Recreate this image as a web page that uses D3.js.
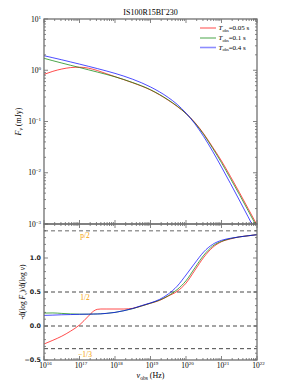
<!DOCTYPE html>
<html><head><meta charset="utf-8">
<script src="https://cdn.jsdelivr.net/npm/d3@7"></script>
<style>body{margin:0;background:#fff}svg{display:block}</style>
</head><body>
<svg id="c" width="294" height="392"></svg>
<script>
// ---- data ----
const title = "IS100R15B\u0393230";
const seriesLabels = ["0.05 s", "0.1 s", "0.4 s"];
const seriesColors = ["#ff0000", "#008000", "#0000ff"];
// flux panel: log10(nu) grid and F_nu (mJy)
const fluxLogNu = [16,16.25,16.5,16.75,17,17.25,17.5,17.75,18,18.5,19,19.5,19.75,20,20.25,20.5,20.75,21,21.25,21.5,21.75,22];
const fluxT005 = [0.832,0.953,1.057,1.127,1.148,1.099,0.989,0.861,0.750,0.569,0.412,0.260,0.197,0.143,0.0955,0.0575,0.0316,0.0170,0.00851,0.00417,0.00200,0.000955];
const fluxT01  = [1.710,1.535,1.384,1.250,1.130,1.021,0.923,0.832,0.745,0.575,0.417,0.264,0.200,0.143,0.0938,0.0556,0.0302,0.0157,0.00776,0.00380,0.00182,0.000871];
const fluxT04  = [1.923,1.754,1.600,1.452,1.318,1.194,1.079,0.971,0.869,0.667,0.472,0.294,0.216,0.146,0.0902,0.0506,0.0262,0.0129,0.00621,0.00294,0.00138,0.000638];
// spectral index panel
const slopeLogNu = [16,16.25,16.5,16.75,17,17.25,17.4,17.5,17.6,17.75,18,18.25,18.5,18.75,19,19.25,19.5,19.75,20,20.25,20.5,20.75,21,21.25,21.5,21.75,22];
const slopeT005 = [-0.265,-0.21,-0.15,-0.075,0.015,0.145,0.22,0.245,0.25,0.25,0.25,0.25,0.26,0.295,0.335,0.375,0.44,0.51,0.63,0.82,1.01,1.155,1.24,1.28,1.31,1.327,1.343];
const slopeT01  = [0.190,0.192,0.185,0.178,0.174,0.174,0.176,0.177,0.179,0.185,0.200,0.225,0.255,0.295,0.335,0.38,0.445,0.535,0.665,0.855,1.04,1.175,1.245,1.285,1.31,1.327,1.343];
const slopeT04  = [0.156,0.160,0.165,0.168,0.172,0.174,0.176,0.177,0.179,0.185,0.200,0.225,0.258,0.300,0.34,0.39,0.47,0.585,0.75,0.925,1.09,1.20,1.26,1.29,1.31,1.327,1.343];
const refLines = [{v:1.4, t:"p/2", gray:true}, {v:0.5, t:"1/2"}, {v:0.0, t:null}, {v:-1/3, t:"\u22121/3"}];
const xTickExps = [16,17,18,19,20,21,22];
const yTopExps = [-3,-2,-1,0,1];
const yBotTicks = [-0.5,0.0,0.5,1.0];

// ---- layout ----
const L=44, R=257, T1=19, B1=224, T2=224, B2=360;
const svg = d3.select("#c");
const x = d3.scaleLog().domain([1e16,1e22]).range([L,R]);
const yT = d3.scaleLog().domain([1e-3,1e1]).range([B1,T1]);
const yB = d3.scaleLinear().domain([-0.5,1.5]).range([B2,T2]);
const serif = "'Liberation Serif', 'DejaVu Serif', serif";
const sans = "'DejaVu Sans', sans-serif";
const spine = "#707070";

const defs = svg.append("defs");
defs.append("clipPath").attr("id","cp1").append("rect").attr("x",L).attr("y",T1).attr("width",R-L).attr("height",B1-T1);
defs.append("clipPath").attr("id","cp2").append("rect").attr("x",L).attr("y",T2).attr("width",R-L).attr("height",B2-T2);

// reference lines (bottom)
const gRef = svg.append("g");
refLines.forEach(r=>{
  gRef.append("line").attr("x1",L).attr("x2",R).attr("y1",yB(r.v)).attr("y2",yB(r.v))
    .attr("stroke", r.gray? "#999":"#333").attr("stroke-width", r.gray?1.4:0.9)
    .attr("stroke-dasharray","4,3");
});
refLines.filter(r=>r.t).forEach(r=>{
  svg.append("text").attr("x",85).attr("y",yB(r.v)+ (r.v===1.4?7.5:8))
    .attr("text-anchor","middle").attr("font-family",serif).attr("font-size",7.5)
    .attr("fill","#f5a000").text(r.t);
});

// lines
const lineTop = d3.line().x(d=>x(Math.pow(10,d[0]))).y(d=>yT(d[1])).curve(d3.curveMonotoneX);
const lineBot = d3.line().x(d=>x(Math.pow(10,d[0]))).y(d=>yB(d[1])).curve(d3.curveMonotoneX);
const fluxSeries = [fluxT005, fluxT01, fluxT04];
const slopeSeries = [slopeT005, slopeT01, slopeT04];
const g1 = svg.append("g").attr("clip-path","url(#cp1)");
const g2 = svg.append("g").attr("clip-path","url(#cp2)");
fluxSeries.forEach((s,i)=>{
  g1.append("path").attr("d", lineTop(fluxLogNu.map((e,j)=>[e,s[j]])))
    .attr("fill","none").attr("stroke",seriesColors[i]).attr("stroke-opacity",0.7).attr("stroke-width",1);
});
slopeSeries.forEach((s,i)=>{
  g2.append("path").attr("d", lineBot(slopeLogNu.map((e,j)=>[e,s[j]])))
    .attr("fill","none").attr("stroke",seriesColors[i]).attr("stroke-opacity",0.7).attr("stroke-width",1);
});

// ticks
const gt = svg.append("g").attr("stroke","#333").attr("stroke-width",0.6);
function vtick(xp, y0, dir, len){ gt.append("line").attr("x1",xp).attr("x2",xp).attr("y1",y0).attr("y2",y0+dir*len); }
function htick(yp, x0, dir, len){ gt.append("line").attr("x1",x0).attr("x2",x0+dir*len).attr("y1",yp).attr("y2",yp); }
for(let e=16;e<22;e++){
  for(let m=1;m<10;m++){
    const v = m*Math.pow(10,e), xp=x(v), len = m===1?4:2;
    [[T1,1],[B1,-1],[T2,1],[B2,-1]].forEach(([y0,d])=>vtick(xp,y0,d,len));
  }
}
[[T1,1],[B1,-1],[T2,1],[B2,-1]].forEach(([y0,d])=>vtick(x(1e22),y0,d,4));
for(let e=-3;e<1;e++){
  for(let m=1;m<10;m++){
    const yp=yT(m*Math.pow(10,e)), len=m===1?4:2;
    htick(yp,L,1,len); htick(yp,R,-1,len);
  }
}
htick(yT(10),L,1,4); htick(yT(10),R,-1,4);
for(let k=-5;k<=15;k++){
  const v=k/10, yp=yB(v), len = (k%5===0)?4:2;
  htick(yp,L,1,len); htick(yp,R,-1,len);
}

// spines
const gs = svg.append("g").attr("fill","none").attr("stroke",spine).attr("stroke-width",1.3);
gs.append("rect").attr("x",L).attr("y",T1).attr("width",R-L).attr("height",B1-T1);
gs.append("rect").attr("x",L).attr("y",T2).attr("width",R-L).attr("height",B2-T2);

// tick labels
function powLabel(xp, yp, e, anchor){
  const t = svg.append("text").attr("x",xp).attr("y",yp).attr("text-anchor",anchor)
    .attr("font-family",serif).attr("font-size",7.5).attr("fill","#000");
  t.append("tspan").text("10");
  t.append("tspan").attr("dy",-3).attr("font-size",5).text(e<0? "\u2212"+(-e) : e);
}
xTickExps.forEach(e=>powLabel(x(Math.pow(10,e))+1.5, 368, e, "middle"));
yTopExps.forEach(e=>powLabel(41, yT(Math.pow(10,e))+2.5, e, "end"));
yBotTicks.forEach(v=>{
  svg.append("text").attr("x",41).attr("y",yB(v)+2.3).attr("text-anchor","end")
    .attr("font-family",sans).attr("font-size",6.3).attr("font-weight","bold").attr("fill","#222")
    .text(v<0? "\u2212"+d3.format(".1f")(-v) : d3.format(".1f")(v));
});

// title
svg.append("text").attr("x",(L+R)/2).attr("y",15).attr("text-anchor","middle")
  .attr("font-family",serif).attr("font-size",8).text(title);

// axis labels
const yl1 = svg.append("text").attr("transform",`translate(21,${(T1+B1)/2}) rotate(-90)`)
  .attr("text-anchor","middle").attr("font-family",serif).attr("font-size",8);
yl1.append("tspan").attr("font-style","italic").text("F");
yl1.append("tspan").attr("dy",1.5).attr("font-size",5.5).attr("font-style","italic").text("\u03bd");
yl1.append("tspan").attr("dy",-1.5).text(" (mJy)");

const yl2 = svg.append("text").attr("transform",`translate(25,${(T2+B2)/2}) rotate(-90)`)
  .attr("text-anchor","middle").attr("font-family",serif).attr("font-size",7.5);
yl2.append("tspan").text("-d(log ");
yl2.append("tspan").attr("font-style","italic").text("F");
yl2.append("tspan").attr("dy",1.5).attr("font-size",5).attr("font-style","italic").text("\u03bd");
yl2.append("tspan").attr("dy",-1.5).text(")/d(log ");
yl2.append("tspan").attr("font-style","italic").text("\u03bd");
yl2.append("tspan").text(")");

const xl = svg.append("text").attr("x",(L+R)/2).attr("y",378).attr("text-anchor","middle")
  .attr("font-family",serif).attr("font-size",8);
xl.append("tspan").attr("font-style","italic").text("\u03bd");
xl.append("tspan").attr("dy",1.8).attr("font-size",5.5).text("obs");
xl.append("tspan").attr("dy",-1.8).text(" (Hz)");

// legend
const legY = [28,38,47.5];
seriesLabels.forEach((lab,i)=>{
  svg.append("line").attr("x1",200).attr("x2",216).attr("y1",legY[i]).attr("y2",legY[i])
    .attr("stroke",seriesColors[i]).attr("stroke-opacity",0.45).attr("stroke-width",1.6);
  const t = svg.append("text").attr("x",218.5).attr("y",legY[i]+2.3)
    .attr("font-family",serif).attr("font-size",7);
  t.append("tspan").attr("font-style","italic").text("T");
  t.append("tspan").attr("dy",1.5).attr("font-size",4.5).text("obs");
  t.append("tspan").attr("dy",-1.5).text("=" + lab);
});
</script>
</body></html>
